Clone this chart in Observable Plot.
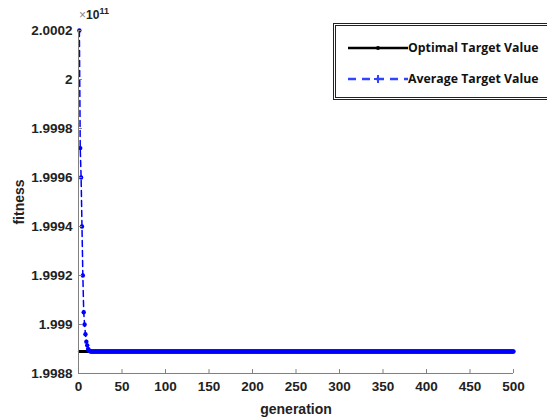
<!DOCTYPE html>
<html><head><meta charset="utf-8">
<script src="https://cdn.jsdelivr.net/npm/d3@7"></script>
<script src="https://cdn.jsdelivr.net/npm/@observablehq/plot@0.6"></script>
<style>
html,body{margin:0;padding:0;background:#fff;overflow:hidden;}
#wrap{position:relative;width:547px;height:417px;overflow:hidden;font-family:"Liberation Sans",Arial,sans-serif;}
#legend{position:absolute;left:333px;top:23px;width:230px;height:77px;border:3px double #222;box-sizing:border-box;background:#fff;font-family:"Open Sans",sans-serif;font-weight:bold;font-size:12.3px;color:#111;}
.row{position:absolute;left:12px;display:flex;align-items:center;white-space:nowrap;}
.row svg{display:block}
#exp{position:absolute;left:79px;top:6px;font-size:12px;color:#222;font-weight:bold;}
#exp .x{color:#888;font-weight:normal;}
#exp sup{font-size:9px;}
</style></head>
<body><div id="wrap"></div>
<script>
const xTicks = [0,50,100,150,200,250,300,350,400,450,500];
const yTicks = [1.9988,1.999,1.9992,1.9994,1.9996,1.9998,2,2.0002];
const generations = d3.range(1, 501);
const optimalValue = 1.99889;
const averageEarly = [2.0002,1.99972,1.9996,1.9994,1.9992,1.99905,1.9990,1.99896,1.99893,1.998915,1.99890,1.998895,1.998892];
const averagePlateau = 1.99889;

const optimal = generations.map(g => ({g, v: optimalValue}));
const average = generations.map(g => ({g, v: g <= averageEarly.length ? averageEarly[g-1] : averagePlateau}));

const fmt = d => String(+d.toFixed(4));
const chart = Plot.plot({
  width: 547, height: 417,
  marginLeft: 78, marginRight: 34, marginTop: 30, marginBottom: 44,
  style: {fontFamily: '"Liberation Sans", Arial, sans-serif', fontSize: "12px", color: "#222", background: "#fff"},
  x: {domain: [0, 500], ticks: xTicks, tickFormat: d => d},
  y: {domain: [1.9988, 2.0002], ticks: yTicks, tickFormat: fmt},
  marks: [
    Plot.line(optimal, {x: "g", y: "v", stroke: "#000", strokeWidth: 3}),
    Plot.line(average, {x: "g", y: "v", stroke: "#0000ff", strokeWidth: 1.5, strokeDasharray: "6,4"}),
    Plot.dot(average, {x: "g", y: "v", r: 2.2, fill: "#0000ff", stroke: "none"}),
    Plot.ruleX([0], {stroke: "#808080"}),
    Plot.ruleY([1.9988], {stroke: "#808080"}),
    Plot.ruleX(xTicks.slice(1), {x: d => d, y1: 1.9988, y2: 1.998816, stroke: "#808080"}),
    Plot.ruleY(yTicks.slice(1), {y: d => d, x1: 0, x2: 4.5, stroke: "#808080"}),
    Plot.axisX({ticks: xTicks, tickSize: 0, tickPadding: 8, fontWeight: "bold", fontSize: 13.5, label: "generation", labelAnchor: "center", labelArrow: "none", labelOffset: 40}),
    Plot.axisY({ticks: yTicks, tickSize: 0, tickPadding: 6, tickFormat: fmt, fontWeight: "bold", fontSize: 13.5, label: "fitness", labelAnchor: "center", labelArrow: "none", labelOffset: 64})
  ]
});
chart.querySelectorAll('[aria-label="x-axis label"] text, [aria-label="y-axis label"] text').forEach(t => t.setAttribute("font-size", "14"));
const wrap = document.getElementById("wrap");
wrap.appendChild(chart);
const exp = document.createElement("div");
exp.id = "exp";
exp.innerHTML = '<span class="x">×</span>10<sup>11</sup>';
wrap.appendChild(exp);
const lg = document.createElement("div");
lg.id = "legend";
lg.innerHTML = `
<div class="row" style="top:13px"><svg width="60" height="10"><line x1="0" x2="60" y1="5" y2="5" stroke="#000" stroke-width="2.5"/><circle cx="30" cy="5" r="2" fill="#000"/></svg><span>Optimal Target Value</span></div>
<div class="row" style="top:44px"><svg width="60" height="10"><line x1="0" x2="60" y1="5" y2="5" stroke="#3344ff" stroke-width="2.5" stroke-dasharray="8,6"/><path d="M26,5H34M30,1V9" stroke="#3344ff" stroke-width="2"/></svg><span>Average Target Value</span></div>`;
wrap.appendChild(lg);
</script></body></html>
